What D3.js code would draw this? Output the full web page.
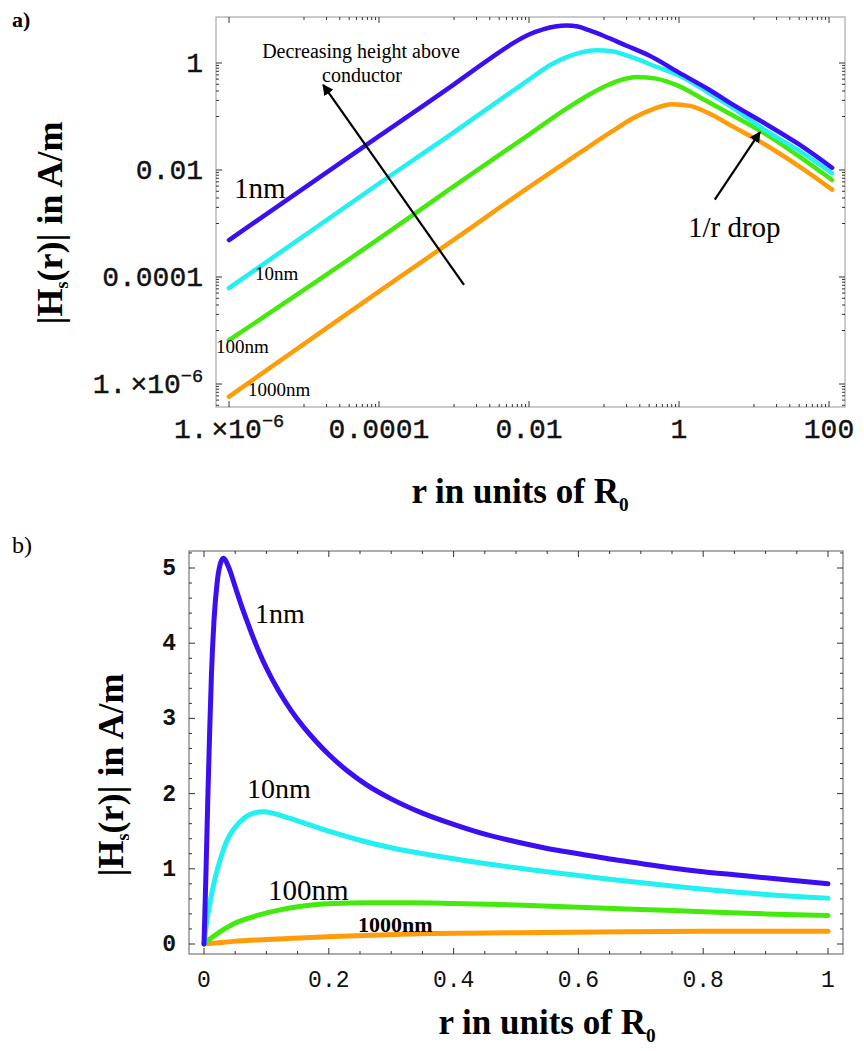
<!DOCTYPE html>
<html><head><meta charset="utf-8">
<script src="https://cdn.jsdelivr.net/npm/d3@7"></script>
<style>body{margin:0;background:#fff}</style>
</head><body>
<svg id="c" width="864" height="1051" xmlns="http://www.w3.org/2000/svg"></svg>
<script>
// ---------- data ----------
const seriesNames = ["1nm", "10nm", "100nm", "1000nm"];
const seriesColors = ["#3c0ef2", "#22f0f2", "#44ea0e", "#ff9c08"];

// Panel a) log-log : r (units of R0) and |Hs(r)| (A/m)
const rA_1nm = [1e-6, 1e-4, 1e-3, 3.16e-3, 6.3e-3, 0.01, 0.0158, 0.0224, 0.0316, 0.0447, 0.063, 0.1, 0.2, 0.4, 1, 2.5, 5.1, 14, 40, 110];
const hA_1nm = [4.9e-4, 0.043, 0.40, 1.26, 2.4, 3.4, 4.3, 4.8, 5.0, 4.8, 4.1, 3.2, 2.1, 1.38, 0.66, 0.32, 0.17, 0.074, 0.030, 0.011];
const rA_10nm = [1e-6, 1e-4, 1e-3, 4e-3, 0.01, 0.02, 0.0316, 0.05, 0.079, 0.126, 0.234, 0.5, 1.1, 2.5, 5.1, 14, 40, 110];
const hA_10nm = [6.2e-5, 5.6e-3, 0.051, 0.20, 0.49, 0.95, 1.29, 1.58, 1.74, 1.66, 1.29, 0.85, 0.55, 0.275, 0.148, 0.056, 0.023, 8.7e-3];
const rA_100nm = [1e-6, 1e-4, 1e-3, 0.01, 0.0316, 0.063, 0.1, 0.158, 0.28, 0.5, 1, 2, 5.1, 14, 40, 110];
const hA_100nm = [6.6e-6, 5.2e-4, 5.0e-3, 0.046, 0.14, 0.255, 0.36, 0.47, 0.55, 0.51, 0.37, 0.22, 0.107, 0.048, 0.018, 6.5e-3];
const rA_1000nm = [1e-6, 1e-4, 1e-3, 0.01, 0.05, 0.126, 0.25, 0.45, 0.8, 1.4, 2.5, 5.1, 14, 40, 110];
const hA_1000nm = [5.8e-7, 5.4e-5, 5.0e-4, 4.8e-3, 0.022, 0.052, 0.095, 0.138, 0.17, 0.158, 0.115, 0.066, 0.030, 0.0117, 4.3e-3];

const xTicksA = [1e-6, 1e-4, 1e-2, 1, 100];
const xTickLabelsA = [["1.", "×10", "−6"], ["0.0001"], ["0.01"], ["1"], ["100"]];
const yTicksA = [1e-6, 1e-4, 1e-2, 1];
const yTickLabelsA = [["1.", "×10", "−6"], ["0.0001"], ["0.01"], ["1"]];
const minorMantissas = [1, 2, 3, 4, 5, 6, 7, 8, 9];
const minorDecadesXA = [1e-5, 1e-3, 1e-1, 10];
const minorDecadesYA = [1e-7, 1e-5, 1e-3, 1e-1];

// Panel b) linear
const rB_1nm = [0, 0.003, 0.006, 0.009, 0.012, 0.016, 0.021, 0.026, 0.031, 0.04, 0.05, 0.06, 0.07, 0.08, 0.09, 0.1, 0.12, 0.14, 0.16, 0.18, 0.2, 0.23, 0.26, 0.3, 0.35, 0.4, 0.45, 0.5, 0.55, 0.6, 0.65, 0.7, 0.75, 0.8, 0.85, 0.9, 0.95, 1.0];
const hB_1nm = [0, 0.9, 1.9, 2.8, 3.6, 4.3, 4.8, 5.05, 5.13, 5.0, 4.75, 4.5, 4.27, 4.05, 3.85, 3.67, 3.36, 3.1, 2.88, 2.69, 2.52, 2.3, 2.12, 1.93, 1.74, 1.59, 1.46, 1.36, 1.27, 1.2, 1.13, 1.07, 1.01, 0.96, 0.92, 0.88, 0.84, 0.80];
const rB_10nm = [0, 0.004, 0.0096, 0.017, 0.026, 0.036, 0.047, 0.065, 0.079, 0.095, 0.11, 0.13, 0.16, 0.2, 0.25, 0.3, 0.365, 0.45, 0.55, 0.65, 0.75, 0.85, 1.0];
const hB_10nm = [0, 0.28, 0.55, 0.85, 1.12, 1.36, 1.52, 1.68, 1.74, 1.76, 1.74, 1.69, 1.61, 1.5, 1.38, 1.28, 1.18, 1.07, 0.96, 0.86, 0.77, 0.69, 0.61];
const rB_100nm = [0, 0.01, 0.02, 0.035, 0.05, 0.07, 0.09, 0.12, 0.15, 0.18, 0.21, 0.26, 0.33, 0.4, 0.5, 0.6, 0.7, 0.8, 0.9, 1.0];
const hB_100nm = [0, 0.07, 0.13, 0.21, 0.28, 0.34, 0.39, 0.45, 0.495, 0.525, 0.54, 0.55, 0.55, 0.54, 0.52, 0.49, 0.46, 0.43, 0.40, 0.38];
const rB_1000nm = [0, 0.02, 0.047, 0.1, 0.207, 0.3, 0.365, 0.5, 0.633, 0.8, 1.0];
const hB_1000nm = [0, 0.015, 0.035, 0.06, 0.10, 0.125, 0.14, 0.15, 0.16, 0.17, 0.17];

const xTicksB = [0, 0.2, 0.4, 0.6, 0.8, 1];
const xTickLabelsB = ["0", "0.2", "0.4", "0.6", "0.8", "1"];
const xMinorB = [0.05, 0.1, 0.15, 0.25, 0.3, 0.35, 0.45, 0.5, 0.55, 0.65, 0.7, 0.75, 0.85, 0.9, 0.95];
const yTicksB = [0, 1, 2, 3, 4, 5];
const yTickLabelsB = ["0", "1", "2", "3", "4", "5"];
const yMinorB = [0.2, 0.4, 0.6, 0.8, 1.2, 1.4, 1.6, 1.8, 2.2, 2.4, 2.6, 2.8, 3.2, 3.4, 3.6, 3.8, 4.2, 4.4, 4.6, 4.8, 5.2];

// ---------- drawing ----------
const svg = d3.select("#c");
const SERIF = "'Liberation Serif','Times New Roman',serif";
const MONO = "'Liberation Mono','Courier New',monospace";

svg.append("defs").append("marker")
  .attr("id", "ah").attr("viewBox", "0 0 10 10").attr("refX", 9).attr("refY", 5)
  .attr("markerWidth", 5).attr("markerHeight", 5).attr("orient", "auto")
  .append("path").attr("d", "M0,0 L10,5 L0,10 z").attr("fill", "#000");

function frameAndTicks(g, box, xs, ys, xMaj, xMin, yMaj, yMin, frameColor) {
  g.append("rect").attr("x", box.l).attr("y", box.t).attr("width", box.r - box.l).attr("height", box.b - box.t)
    .attr("fill", "none").attr("stroke", frameColor).attr("stroke-width", 1.2);
  const tk = g.append("g").attr("stroke", "#333").attr("stroke-width", 1);
  const inX = v => { const p = xs(v); return p >= box.l && p <= box.r; };
  const inY = v => { const p = ys(v); return p >= box.t && p <= box.b; };
  xMaj.filter(inX).forEach(v => {
    tk.append("line").attr("x1", xs(v)).attr("x2", xs(v)).attr("y1", box.b).attr("y2", box.b - 6);
    tk.append("line").attr("x1", xs(v)).attr("x2", xs(v)).attr("y1", box.t).attr("y2", box.t + 6);
  });
  xMin.filter(inX).forEach(v => {
    tk.append("line").attr("x1", xs(v)).attr("x2", xs(v)).attr("y1", box.b).attr("y2", box.b - 3);
    tk.append("line").attr("x1", xs(v)).attr("x2", xs(v)).attr("y1", box.t).attr("y2", box.t + 3);
  });
  yMaj.filter(inY).forEach(v => {
    tk.append("line").attr("y1", ys(v)).attr("y2", ys(v)).attr("x1", box.l).attr("x2", box.l + 6);
    tk.append("line").attr("y1", ys(v)).attr("y2", ys(v)).attr("x1", box.r).attr("x2", box.r - 6);
  });
  yMin.filter(inY).forEach(v => {
    tk.append("line").attr("y1", ys(v)).attr("y2", ys(v)).attr("x1", box.l).attr("x2", box.l + 3);
    tk.append("line").attr("y1", ys(v)).attr("y2", ys(v)).attr("x1", box.r).attr("x2", box.r - 3);
  });
}

function sciLabel(sel, parts, size) {
  if (parts.length === 1) { sel.text(parts[0]); return; }
  sel.append("tspan").text(parts[0]);
  sel.append("tspan").attr("dx", 4).text(parts[1]);
  sel.append("tspan").attr("dy", -11).attr("font-size", size * 0.66).text(parts[2]);
}

function yLabel(g, x, y, size) {
  const t = g.append("text").attr("transform", `translate(${x},${y}) rotate(-90)`)
    .attr("text-anchor", "middle").attr("font-family", SERIF).attr("font-weight", "bold").attr("font-size", size);
  t.append("tspan").text("|H");
  t.append("tspan").attr("font-size", size * 0.5).attr("dy", 6).text("s");
  t.append("tspan").attr("dy", -6).text("(r)| in A/m");
}
function xLabel(g, x, y, size) {
  const t = g.append("text").attr("x", x).attr("y", y)
    .attr("text-anchor", "middle").attr("font-family", SERIF).attr("font-weight", "bold").attr("font-size", size);
  t.append("tspan").text("r in units of R");
  t.append("tspan").attr("font-size", size * 0.55).attr("dy", 8).text("0");
}

// ===== Panel a =====
const boxA = { l: 216, r: 845, t: 17, b: 407 };
const xA = d3.scaleLog().domain([1e-6, 100]).range([229, 829]);
const yA = d3.scaleLog().domain([1e-6, 1]).range([384, 63]);
const gA = svg.append("g");
const minorXA = minorDecadesXA.flatMap(d => minorMantissas.map(m => m * d));
const minorYA = minorDecadesYA.flatMap(d => minorMantissas.map(m => m * d));
frameAndTicks(gA, boxA, xA, yA, xTicksA, minorXA, yTicksA, minorYA, "#a8a8a8");

xTicksA.forEach((v, i) => {
  const t = gA.append("text").attr("x", xA(v)).attr("y", 438).attr("text-anchor", "middle")
    .attr("font-family", MONO).attr("font-size", 28).attr("fill", "#111").attr("stroke", "#111").attr("stroke-width", 0.4);
  sciLabel(t, xTickLabelsA[i], 28);
});
yTicksA.forEach((v, i) => {
  const t = gA.append("text").attr("x", 203).attr("y", yA(v) + 9).attr("text-anchor", "end")
    .attr("font-family", MONO).attr("font-size", 28).attr("fill", "#111").attr("stroke", "#111").attr("stroke-width", 0.4);
  sciLabel(t, yTickLabelsA[i], 28);
});

const seriesA = [[rA_1nm, hA_1nm], [rA_10nm, hA_10nm], [rA_100nm, hA_100nm], [rA_1000nm, hA_1000nm]];
const lineA = d3.line().x(d => xA(d[0])).y(d => yA(d[1])).curve(d3.curveMonotoneX);
seriesA.slice().reverse().forEach((s, k) => {
  const i = seriesA.length - 1 - k;
  gA.append("path").datum(s[0].map((r, j) => [r, s[1][j]]))
    .attr("d", lineA).attr("fill", "none").attr("stroke", seriesColors[i])
    .attr("stroke-width", 4.5).attr("stroke-linecap", "round").attr("stroke-linejoin", "round");
});

// annotations a
gA.append("text").attr("x", 234).attr("y", 198).attr("font-family", SERIF).attr("font-size", 29).text("1nm");
gA.append("text").attr("x", 255).attr("y", 280).attr("font-family", SERIF).attr("font-size", 19).text("10nm");
gA.append("text").attr("x", 216).attr("y", 353).attr("font-family", SERIF).attr("font-size", 19).text("100nm");
gA.append("text").attr("x", 248).attr("y", 396).attr("font-family", SERIF).attr("font-size", 19).text("1000nm");
gA.append("text").attr("x", 361).attr("y", 58).attr("text-anchor", "middle").attr("font-family", SERIF).attr("font-size", 20).text("Decreasing height above");
gA.append("text").attr("x", 362).attr("y", 82).attr("text-anchor", "middle").attr("font-family", SERIF).attr("font-size", 20).text("conductor");
gA.append("text").attr("x", 688).attr("y", 237).attr("font-family", SERIF).attr("font-size", 29).text("1/r drop");
gA.append("line").attr("x1", xA(1.36e-3)).attr("y1", yA(7.1e-5)).attr("x2", xA(1.8e-5)).attr("y2", yA(0.39))
  .attr("stroke", "#000").attr("stroke-width", 2.2).attr("marker-end", "url(#ah)");
gA.append("line").attr("x1", xA(3.0)).attr("y1", yA(2.8e-3)).attr("x2", xA(12)).attr("y2", yA(0.051))
  .attr("stroke", "#000").attr("stroke-width", 2.2).attr("marker-end", "url(#ah)");

yLabel(gA, 62, 223, 36);
xLabel(gA, 520, 503, 35);
svg.append("text").attr("x", 12).attr("y", 27).attr("font-family", SERIF).attr("font-size", 22).attr("font-weight", "bold").text("a)");

// ===== Panel b =====
const boxB = { l: 189, r: 843, t: 551, b: 954 };
const xB = d3.scaleLinear().domain([0, 1]).range([204, 828]);
const yB = d3.scaleLinear().domain([0, 5]).range([944, 568]);
const gB = svg.append("g");
frameAndTicks(gB, boxB, xB, yB, xTicksB, xMinorB, yTicksB, yMinorB, "#777");

xTicksB.forEach((v, i) => {
  gB.append("text").attr("x", xB(v)).attr("y", 987).attr("text-anchor", "middle")
    .attr("font-family", MONO).attr("font-size", 23).attr("fill", "#111").text(xTickLabelsB[i]);
});
yTicksB.forEach((v, i) => {
  gB.append("text").attr("x", 176).attr("y", yB(v) + 7).attr("text-anchor", "end")
    .attr("font-family", MONO).attr("font-size", 23).attr("font-weight", "bold").attr("fill", "#111").text(yTickLabelsB[i]);
});

const seriesB = [[rB_1nm, hB_1nm], [rB_10nm, hB_10nm], [rB_100nm, hB_100nm], [rB_1000nm, hB_1000nm]];
const lineB = d3.line().x(d => xB(d[0])).y(d => yB(d[1])).curve(d3.curveMonotoneX);
seriesB.slice().reverse().forEach((s, k) => {
  const i = seriesB.length - 1 - k;
  gB.append("path").datum(s[0].map((r, j) => [r, s[1][j]]))
    .attr("d", lineB).attr("fill", "none").attr("stroke", seriesColors[i])
    .attr("stroke-width", 5).attr("stroke-linecap", "round").attr("stroke-linejoin", "round");
});

gB.append("text").attr("x", 255).attr("y", 623).attr("font-family", SERIF).attr("font-size", 28).text("1nm");
gB.append("text").attr("x", 247).attr("y", 798).attr("font-family", SERIF).attr("font-size", 28).text("10nm");
gB.append("text").attr("x", 268).attr("y", 900).attr("font-family", SERIF).attr("font-size", 29).text("100nm");
gB.append("text").attr("x", 358).attr("y", 932).attr("font-family", SERIF).attr("font-size", 22).attr("font-weight", "bold").text("1000nm");

yLabel(gB, 123, 775, 36);
xLabel(gB, 547, 1034, 35);
svg.append("text").attr("x", 12).attr("y", 553).attr("font-family", SERIF).attr("font-size", 24).text("b)");
</script>
</body></html>
